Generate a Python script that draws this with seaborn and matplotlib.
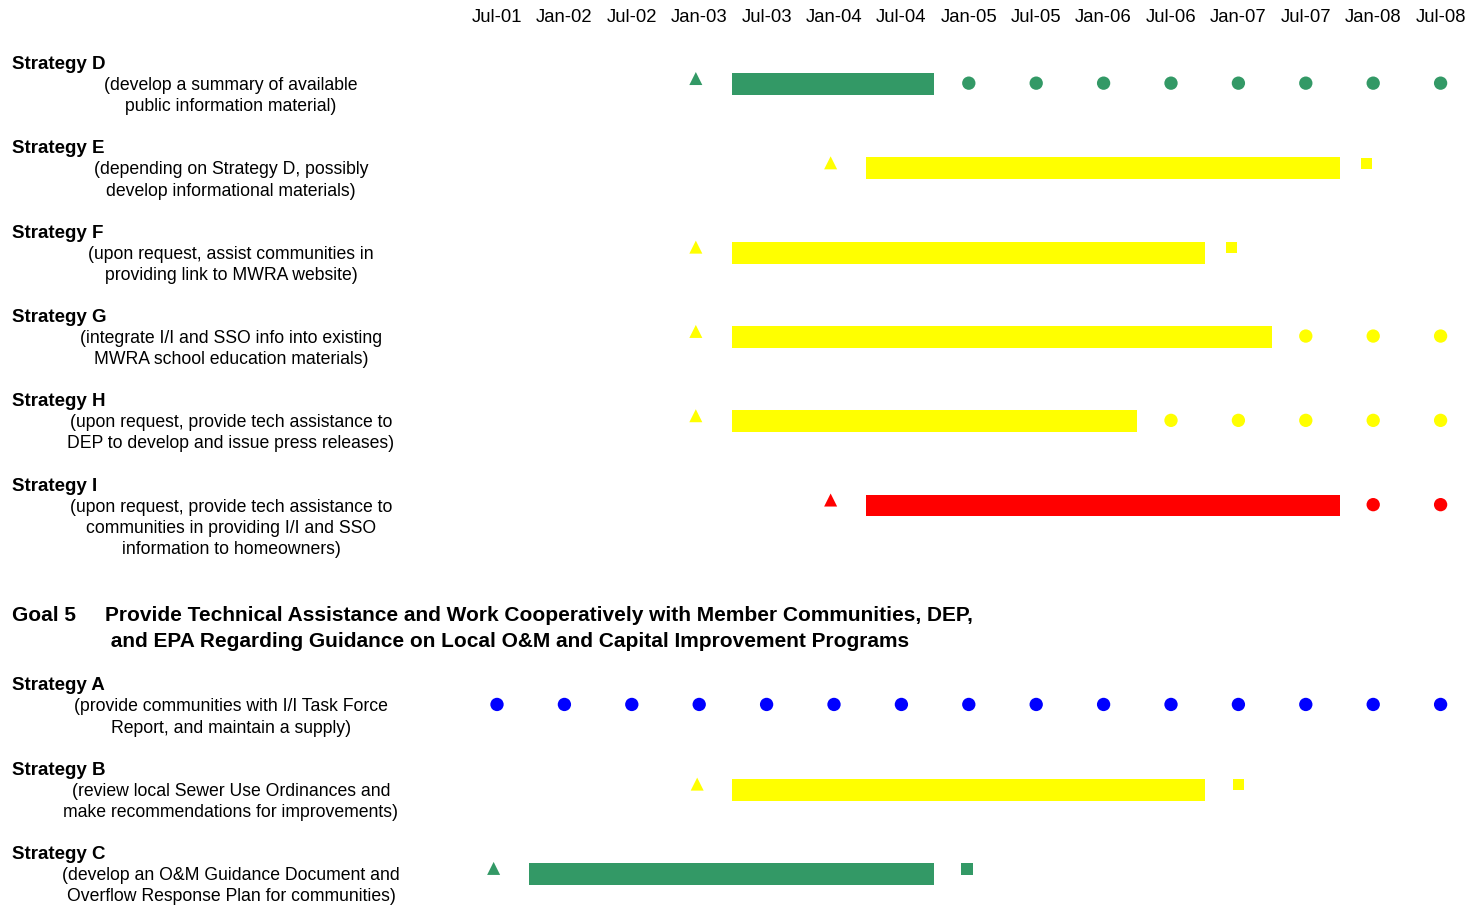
import matplotlib
matplotlib.use("Agg")
import matplotlib.pyplot as plt
import matplotlib.transforms as mtransforms
import seaborn as sns
import pandas as pd

# --- data (x = half-year index, 0 = Jul-01) ---
periods = ["Jul-01", "Jan-02", "Jul-02", "Jan-03", "Jul-03", "Jan-04", "Jul-04", "Jan-05",
           "Jul-05", "Jan-06", "Jul-06", "Jan-07", "Jul-07", "Jan-08", "Jul-08"]

strategies = ["Strategy D", "Strategy E", "Strategy F", "Strategy G", "Strategy H",
              "Strategy I", "Strategy A", "Strategy B", "Strategy C"]
descriptions = [
    ["(develop a summary of available", "public information material)"],
    ["(depending on Strategy D, possibly", "develop informational materials)"],
    ["(upon request, assist communities in", "providing link to MWRA website)"],
    ["(integrate I/I and SSO info into existing", "MWRA school education materials)"],
    ["(upon request, provide tech assistance to", "DEP to develop and issue press releases)"],
    ["(upon request, provide tech assistance to", "communities in providing I/I and SSO",
     "information to homeowners)"],
    ["(provide communities with I/I Task Force", "Report, and maintain a supply)"],
    ["(review local Sewer Use Ordinances and", "make recommendations for improvements)"],
    ["(develop an O&M Guidance Document and", "Overflow Response Plan for communities)"],
]
row_colors = ["green", "yellow", "yellow", "yellow", "yellow", "red", "blue", "yellow", "green"]

start_marks = [2.95, 4.95, 2.95, 2.95, 2.95, 4.95, None, 2.97, -0.05]   # triangles
bar_start = [3.48, 5.48, 3.48, 3.48, 3.48, 5.48, None, 3.48, 0.48]
bar_end = [6.48, 12.5, 10.5, 11.5, 9.5, 12.5, None, 10.5, 6.48]
end_marks = [None, 12.9, 10.9, None, None, None, None, 11, 6.97]        # squares
dot_marks = [
    [7, 8, 9, 10, 11, 12, 13, 14],
    [],
    [],
    [12, 13, 14],
    [10, 11, 12, 13, 14],
    [13, 14],
    [0, 1, 2, 3, 4, 5, 6, 7, 8, 9, 10, 11, 12, 13, 14],
    [],
    [],
]

goal_label = "Goal 5"
goal_lines = ["Provide Technical Assistance and Work Cooperatively with Member Communities, DEP,",
              " and EPA Regarding Guidance on Local O&M and Capital Improvement Programs"]

# --- style ---
palette = {"green": "#339966", "yellow": "#FFFF00", "red": "#FF0000", "blue": "#0000FF"}
FS_TITLE = 13.5
FS_DESC = 12.7
FS_TICK = 13.3
FS_GOAL = 15.0
SECTION_GAP = 1.37   # extra rows between Goal 4 items and Goal 5 items

sns.set_theme(style="white")
plt.rcParams['font.family'] = ['Liberation Sans', 'DejaVu Sans']
plt.rcParams['text.color'] = 'black'
plt.rcParams['xtick.color'] = 'black'

# row positions (in row units)
row_y = [i if i < 6 else i + SECTION_GAP for i in range(len(strategies))]

fig = plt.figure(figsize=(14.72, 9.06), dpi=100)
ax = fig.add_axes([0, 0, 1, 876 / 906])
ax.set_xlim(-497 / 67.4, (1472 - 497) / 67.4)
ax.set_ylim((906 - 84) / 84.3, (30 - 84) / 84.3)

# bars
for y, s, e, c in zip(row_y, bar_start, bar_end, row_colors):
    if s is None:
        continue
    ax.barh(y, e - s, left=s, height=0.26, color=palette[c], linewidth=0)

# markers (triangles / squares sit a little above the bar centre)
recs = []
for y, c, t, sq, dots in zip(row_y, row_colors, start_marks, end_marks, dot_marks):
    if t is not None:
        recs.append({"x": t, "y": y - 0.065, "c": c, "shape": "tri"})
    if sq is not None:
        recs.append({"x": sq, "y": y - 0.06, "c": c, "shape": "sq"})
    for d in dots:
        recs.append({"x": d, "y": y - 0.01, "c": c, "shape": "dot"})
marks = pd.DataFrame(recs)

shape_style = {"tri": ("^", 88), "sq": ("s", 68), "dot": ("o", 92)}
for shape, (mk, size) in shape_style.items():
    sub = marks[marks["shape"] == shape]
    sns.scatterplot(data=sub, x="x", y="y", hue="c", palette=palette, marker=mk,
                    s=size, linewidth=0, legend=False, ax=ax)

# top period labels
ax.xaxis.tick_top()
ax.set_xticks(range(len(periods)))
ax.set_xticklabels(periods, fontsize=FS_TICK)
ax.tick_params(axis="x", length=0, pad=2.7)
ax.set_yticks([])
ax.set_xlabel("")
ax.set_ylabel("")
sns.despine(ax=ax, left=True, bottom=True, top=True, right=True)

# left-hand text
trans = mtransforms.blended_transform_factory(fig.transFigure, ax.transData)
for name, desc, y in zip(strategies, descriptions, row_y):
    ax.text(12 / 1472, y - 0.23, name, transform=trans, fontsize=FS_TITLE,
            fontweight="bold", ha="left", va="center")
    for k, line in enumerate(desc):
        ax.text(231 / 1472, y + 0.02 + k * 0.25, line, transform=trans,
                fontsize=FS_DESC, ha="center", va="center")

goal_y = row_y[6] - 1.07
ax.text(12 / 1472, goal_y, goal_label, transform=trans, fontsize=FS_GOAL,
        fontweight="bold", ha="left", va="center")
for k, line in enumerate(goal_lines):
    ax.text(105 / 1472, goal_y + k * 0.31, line, transform=trans, fontsize=FS_GOAL,
            fontweight="bold", ha="left", va="center")

fig.savefig("out.png", dpi=100)
